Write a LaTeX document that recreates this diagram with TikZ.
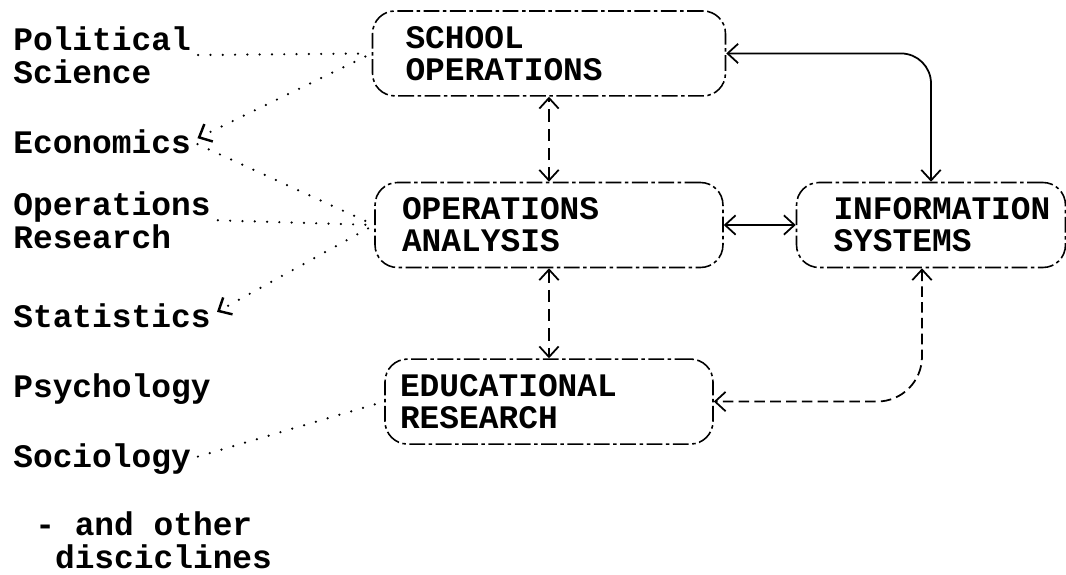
\documentclass[tikz,border=0pt]{standalone}
\usepackage{fontspec}
\setmainfont{Liberation Mono}
\usetikzlibrary{arrows.meta,positioning}

\tikzset{
  box/.style={draw, rounded corners=0.45cm, line width=0.9pt,
              dash pattern=on 9pt off 2pt on 2pt off 2pt,
              minimum height=1.7cm, align=left},
  disc/.style={anchor=base west, inner sep=0pt, align=left},
  feed/.style={line width=1.4pt, line cap=round, dash pattern=on 0pt off 7pt,
               shorten <=4pt, shorten >=4pt},
  link/.style={line width=1pt, <->}
}

\begin{document}
\begin{tikzpicture}[x=0.02cm, y=-0.02cm,
                    >={Straight Barb[length=6pt,width=11pt]},
                    every node/.style={font=\bfseries\fontsize{18.7}{18.4}\selectfont}]
\useasboundingbox (0,0) rectangle (1066,575);

% disciplines
\node[disc] (pol)   at (13,83)  {Political\\Science};
\node[disc] (eco)   at (13,153) {Economics};
\node[disc] (opr)   at (13,248) {Operations\\Research};
\node[disc] (stat)  at (13,327) {Statistics};
\node[disc] (psy)   at (13,397) {Psychology};
\node[disc] (soc)   at (13,467) {Sociology};
\node[disc] (other) at (35,568) {- and other\\\hphantom{--}disciclines};

% activities
\node[box, text width=5.88cm, inner xsep=0.54cm] (oa) at (549,225) {OPERATIONS\\ANALYSIS};
\node[box, above=1.7cm of oa, text width=5.74cm, inner xsep=0.66cm] (school) {SCHOOL\\OPERATIONS};
\node[box, below=1.8cm of oa, text width=5.96cm, inner xsep=0.3cm] (er) {EDUCATIONAL\\RESEARCH};
\node[box, right=1.44cm of oa, text width=3.9cm, inner xsep=0.74cm] (info) {INFORMATION\\SYSTEMS};

% feeds from the disciplines
\draw[feed] (pol.east) -- (school.west);
\draw[feed,->] (school.west) -- (eco.east);
\draw[feed] (eco.east) -- (oa.west);
\draw[feed] (opr.east) -- (oa.west);
\draw[feed,->] (oa.west) -- (stat.east);
\draw[feed] (soc.east) -- (er.west);

% links between activities
\draw[link, rounded corners=0.6cm] (school.east) -| (info.north);
\draw[link] (oa.east) -- (oa.east -| info.west);
\draw[link, dash pattern=on 7pt off 4pt] (oa.north) -- (oa.north |- school.south);
\draw[link, dash pattern=on 7pt off 4pt] (oa.south) -- (er.north);
\draw[link, dash pattern=on 6pt off 3pt, rounded corners=0.9cm]
  ([xshift=-0.18cm]info.south) |- (er.east);
\end{tikzpicture}
\end{document}
